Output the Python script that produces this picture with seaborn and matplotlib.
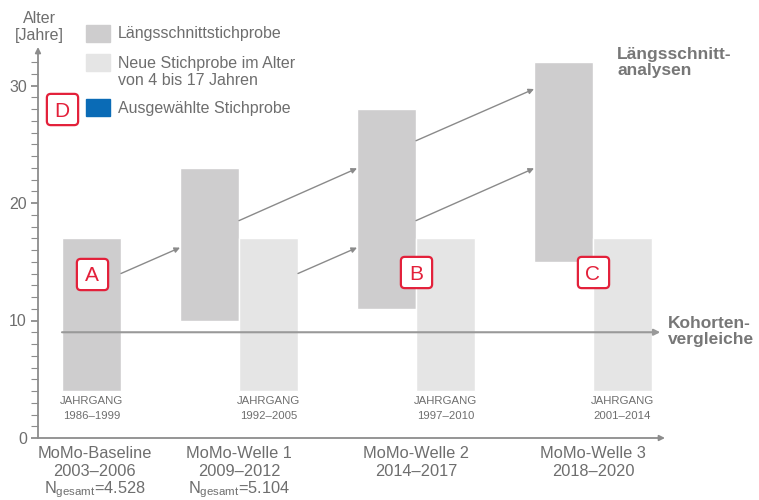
import matplotlib
matplotlib.use("Agg")
import matplotlib.pyplot as plt
import seaborn as sns
import numpy as np
from matplotlib.patches import Rectangle
from matplotlib.path import Path

# Waves of the study
waves = ["MoMo-Baseline", "MoMo-Welle 1", "MoMo-Welle 2", "MoMo-Welle 3"]
periods = ["2003–2006", "2009–2012", "2014–2017", "2018–2020"]
n_total = ["4.528", "5.104", None, None]

# Age ranges (years) of the longitudinal sample and of the new sample
long_lo = [4, 10, 11, 15]
long_hi = [17, 23, 28, 32]
new_lo = [None, 4, 4, 4]
new_hi = [None, 17, 17, 17]
cohorts = ["1986–1999", "1992–2005", "1997–2010", "2001–2014"]

# Age of cohort comparison line
cohort_age = 9

# Longitudinal arrows: (from wave, from bar, start age, end age)
arrow_from_wave = [0, 1, 1, 2, 2]
arrow_from_bar = ["long", "long", "new", "long", "long"]
arrow_start_age = [14.0, 18.5, 14.0, 25.3, 18.5]
arrow_end_age = [16.2, 22.95, 16.2, 29.7, 22.95]

# Marker letters (wave index, bar, age)
marks = ["A", "B", "C", "D"]
mark_wave = [0, 2, 3, 0]
mark_pos = ["center", "edge", "edge", "left"]
mark_age = [14.0, 14.1, 14.1, 28.0]

legend_labels = ["Längsschnittstichprobe",
                 "Neue Stichprobe im Alter\nvon 4 bis 17 Jahren",
                 "Ausgewählte Stichprobe"]

DARK = "#cecdce"
LIGHT = "#e5e5e5"
BLUE = "#0a6bb6"
RED = "#e3203a"
GREY = "#6e6e6e"
AXC = "#8c8c8c"

sns.set_style("white")
plt.rcParams["font.family"] = ["Liberation Sans", "DejaVu Sans"]
plt.rcParams["mathtext.fontset"] = "custom"
plt.rcParams["mathtext.rm"] = "Liberation Sans"
plt.rcParams["mathtext.it"] = "Liberation Sans:italic"

W, H = 759, 500
fig = plt.figure(figsize=(W / 100, H / 100), dpi=100)
ax = fig.add_axes([38 / W, 62 / H, 627 / W, 391 / H])
ax.set_xlim(-24 / 59, 603 / 59)
ax.set_ylim(0, 391 / 11.75)

# bar layout: dark bar, then light bar, then one empty slot
starts = []
pos = 0
for i in range(len(waves)):
    starts.append(pos)
    pos += 1 + (1 if new_lo[i] is not None else 0) + 1
starts = np.array(starts)

ax.bar(starts, np.array(long_hi) - np.array(long_lo), width=1, bottom=long_lo,
       align="edge", color=DARK, zorder=1)
idx = [i for i in range(len(waves)) if new_lo[i] is not None]
ax.bar(starts[idx] + 1, [new_hi[i] - new_lo[i] for i in idx], width=1,
       bottom=[new_lo[i] for i in idx], align="edge", color=LIGHT, zorder=1)

# cohort line
ax.annotate("", xy=(starts[-1] + 2.14, cohort_age), xytext=(starts[0], cohort_age),
            arrowprops=dict(arrowstyle="-|>", color="#999999", lw=1.5,
                            mutation_scale=9, shrinkA=0, shrinkB=0), zorder=3)

# longitudinal arrows
for w, b, a0, a1 in zip(arrow_from_wave, arrow_from_bar, arrow_start_age, arrow_end_age):
    x0 = starts[w] + (1 if b == "long" else 2)
    x1 = starts[w + 1]
    ax.annotate("", xy=(x1, a1), xytext=(x0, a0),
                arrowprops=dict(arrowstyle="-|>", color="#8a8a8a", lw=1,
                                mutation_scale=8, shrinkA=0, shrinkB=0), zorder=3)

# rounded square marker for letters
r = 0.25
verts = [(-1 + r, -1), (1 - r, -1), (1, -1), (1, -1 + r), (1, 1 - r), (1, 1), (1 - r, 1),
         (-1 + r, 1), (-1, 1), (-1, 1 - r), (-1, -1 + r), (-1, -1), (-1 + r, -1), (-1 + r, -1)]
codes = [Path.MOVETO, Path.LINETO, Path.CURVE3, Path.CURVE3, Path.LINETO, Path.CURVE3,
         Path.CURVE3, Path.LINETO, Path.CURVE3, Path.CURVE3, Path.LINETO, Path.CURVE3,
         Path.CURVE3, Path.CLOSEPOLY]
rbox = Path(verts, codes)
for m, w, p, a in zip(marks, mark_wave, mark_pos, mark_age):
    x = starts[w] + {"center": 0.5, "edge": 1.0, "left": 0.0}[p]
    ax.plot(x, a, marker=rbox, markersize=22.5, markerfacecolor="white",
            markeredgecolor=RED, markeredgewidth=1.6, zorder=5, clip_on=False)
    ax.text(x, a, m, color=RED, fontsize=15, ha="center", va="center_baseline", zorder=6)

# cohort labels under bars
for i in range(len(waves)):
    x = starts[i] + (0.5 if new_lo[i] is None else 1.5)
    for txt, yy in (("JAHRGANG", 3.11), (cohorts[i], 1.83)):
        ax.text(x, yy, txt, ha="center", va="center", fontsize=8.2, color=GREY)

# wave labels
for i in range(len(waves)):
    x = starts[i] + (0.55 if new_lo[i] is None else 1.0)
    ax.text(x, -1.73, waves[i], ha="center", va="baseline", fontsize=11.8,
            color=GREY, clip_on=False)
    ax.text(x, -3.21, periods[i], ha="center", va="baseline", fontsize=11.8,
            color=GREY, clip_on=False)
    if n_total[i]:
        ax.text(x, -4.68, r"N$_{\mathrm{gesamt}}$=" + n_total[i], ha="center",
                va="baseline", fontsize=11.8, color=GREY, clip_on=False)

# axes with arrow heads
for s in ax.spines.values():
    s.set_visible(False)
ax.annotate("", xy=(0, 1), xytext=(0, 0), xycoords="axes fraction",
            arrowprops=dict(arrowstyle="-|>", color=AXC, lw=1.3, mutation_scale=8,
                            shrinkA=0, shrinkB=0))
ax.annotate("", xy=(1, 0), xytext=(0, 0), xycoords="axes fraction",
            arrowprops=dict(arrowstyle="-|>", color=AXC, lw=1.3, mutation_scale=8,
                            shrinkA=0, shrinkB=0))
ax.set_xticks([])
ax.set_yticks([0, 10, 20, 30])
ax.set_yticks(np.arange(1, 33), minor=True)
ax.tick_params(axis="y", which="major", direction="out", length=5, width=1.3,
               color=AXC, labelsize=11.5, labelcolor=GREY, pad=3, left=True)
ax.tick_params(axis="y", which="minor", direction="out", length=5, width=0.8,
               color=AXC, left=True)
ax.grid(False)

def px(x, y):
    return x / W, 1 - y / H

fig.text(*px(39, 27), "Alter\n[Jahre]", ha="center", va="center", fontsize=11.5,
         color=GREY, linespacing=1.15)

# legend
for (y0, h), col in zip([(25, 17), (54, 17), (99, 17)], [DARK, LIGHT, BLUE]):
    fig.add_artist(Rectangle((86 / W, 1 - (y0 + h) / H), 24 / W, h / H,
                             transform=fig.transFigure, color=col))
for lab, yc in zip(legend_labels, [33, 72, 109]):
    fig.text(*px(118, yc), lab, ha="left", va="center", fontsize=11.5, color=GREY,
             linespacing=1.1)

fig.text(*px(617, 62.5), "Längsschnitt-\nanalysen", ha="left", va="center",
         fontsize=12.5, fontweight="bold", color="#777777", linespacing=1.15)
fig.text(*px(668, 331.5), "Kohorten-\nvergleiche", ha="left", va="center",
         fontsize=12.5, fontweight="bold", color="#777777", linespacing=1.1)

fig.savefig("out.png", dpi=100)
